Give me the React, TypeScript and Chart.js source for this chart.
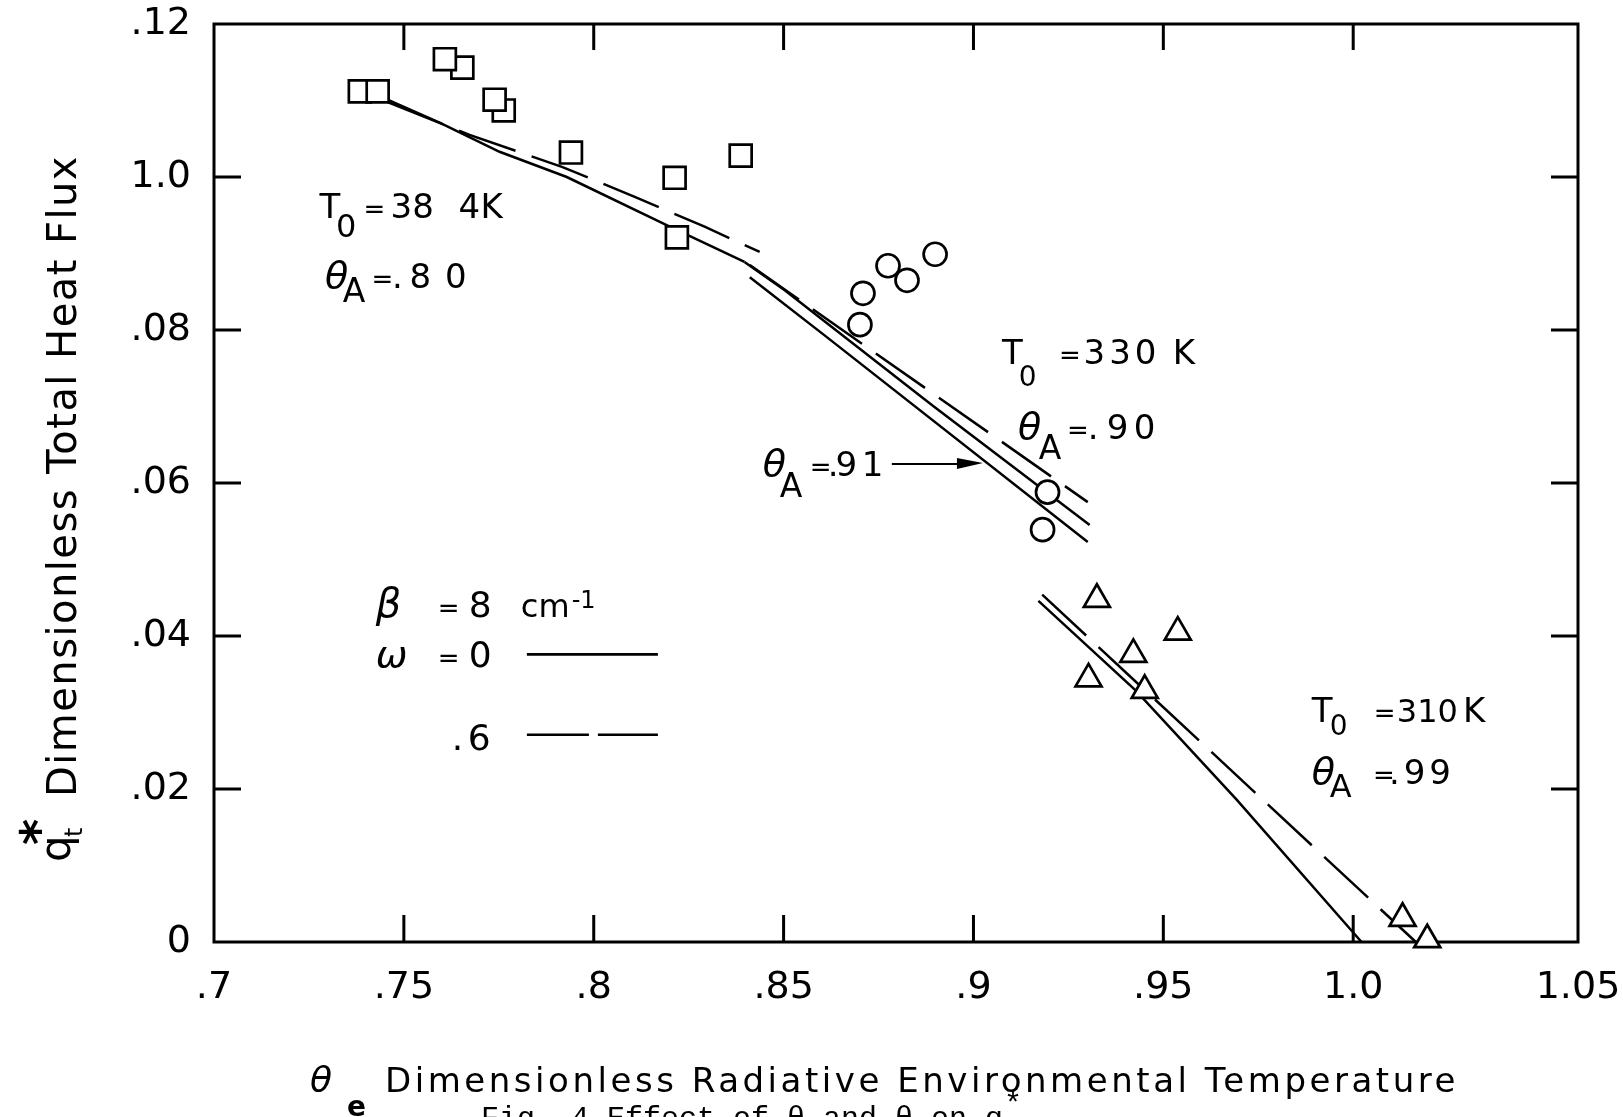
import { useEffect, useRef } from 'react';
import { Chart, registerables } from 'chart.js';

Chart.register(...registerables);

const FONT = "'DejaVu Sans', 'Noto Sans', sans-serif";
const MONO = "'Liberation Mono', 'DejaVu Sans Mono', monospace";
const INK = '#000000';

// ---- axes ----
const X_MIN = 0.7;
const X_MAX = 1.0592; // right edge of the frame (lettered "1.05" on the original)
const Y_MIN = 0;
const Y_MAX = 0.12;
const xTickValues = [0.7, 0.75, 0.8, 0.85, 0.9, 0.95, 1.0, X_MAX];
const xTickLabels = ['.7', '.75', '.8', '.85', '.9', '.95', '1.0', '1.05'];
const xInnerTicks = [0.75, 0.8, 0.85, 0.9, 0.95, 1.0];
const yTickValues = [0, 0.02, 0.04, 0.06, 0.08, 0.1, 0.12];
const yTickLabels = ['0', '.02', '.04', '.06', '.08', '1.0', '.12'];
const yInnerTicks = [0.02, 0.04, 0.06, 0.08, 0.1];

// ---- measured points ----
// T0 = 384 K (squares)
const sqX = [0.7384, 0.7431, 0.7654, 0.7608, 0.7763, 0.7739, 0.794, 0.8213, 0.8219, 0.8387];
const sqY = [0.1112, 0.1112, 0.1143, 0.1154, 0.1087, 0.1101, 0.1032, 0.0999, 0.0921, 0.1028];
// T0 = 330 K (circles)
const ciX = [0.8701, 0.8709, 0.8775, 0.8825, 0.8899, 0.9195, 0.9182];
const ciY = [0.0807, 0.0848, 0.0884, 0.0865, 0.0899, 0.0588, 0.0539];
// T0 = 310 K (triangles)
const trX = [0.9325, 0.9303, 0.9421, 0.9451, 0.9538, 1.013, 1.0195];
const trY = [0.0448, 0.0344, 0.0376, 0.0329, 0.0405, 0.0031, 0.0003];

// ---- computed curves ----
const s384X = [0.7457, 0.7594, 0.7752, 0.7929, 0.8192, 0.8397];
const s384Y = [0.1101, 0.1071, 0.1033, 0.1, 0.0937, 0.0889];
const d384X = [0.7457, 0.7673, 0.7918, 0.8108, 0.8292, 0.8437];
const d384Y = [0.1098, 0.1055, 0.1013, 0.0974, 0.0935, 0.0902];
const s330X = [0.8397, 0.8503, 0.8893, 0.9306];
const s330Y = [0.0889, 0.0852, 0.0701, 0.0545];
const d330X = [0.8411, 0.9301];
const d330Y = [0.0885, 0.0575];
const s391X = [0.8411, 0.8613, 0.9301];
const s391Y = [0.0869, 0.0791, 0.0523];
const s310X = [0.9171, 0.9427, 0.9693, 1.0022];
const s310Y = [0.0446, 0.0329, 0.0186, 0.0];
const d310X = [0.9181, 1.0165];
const d310Y = [0.0454, 0.0];

// ---- in-plot lettering (value coordinates, baseline-left) ----
type TextItem = { text: string; x: number; y: number; size: number; italic?: boolean; bold?: boolean; ls?: number };
const notes: TextItem[] = [
  // T0 = 384 K, thetaA = .80
  { text: 'T', x: 0.7278, y: 0.0946, size: 34 },
  { text: '0', x: 0.7321, y: 0.0922, size: 32 },
  { text: '=', x: 0.7394, y: 0.0946, size: 26 },
  { text: '38', x: 0.7465, y: 0.0946, size: 34 },
  { text: '4', x: 0.7644, y: 0.0946, size: 34 },
  { text: 'K', x: 0.7702, y: 0.0946, size: 34 },
  { text: 'θ', x: 0.7292, y: 0.0855, size: 38, italic: true },
  { text: 'A', x: 0.7339, y: 0.0837, size: 33 },
  { text: '=', x: 0.7415, y: 0.0855, size: 26 },
  { text: '.', x: 0.7469, y: 0.0855, size: 34 },
  { text: '8', x: 0.7515, y: 0.0855, size: 34 },
  { text: '0', x: 0.7608, y: 0.0855, size: 34 },
  // T0 = 330 K, thetaA = .90
  { text: 'T', x: 0.9075, y: 0.0756, size: 34 },
  { text: '0', x: 0.9119, y: 0.0727, size: 28 },
  { text: '=', x: 0.9225, y: 0.0756, size: 26 },
  { text: '330', x: 0.929, y: 0.0756, size: 34, ls: 4 },
  { text: 'K', x: 0.9525, y: 0.0756, size: 34 },
  { text: 'θ', x: 0.9117, y: 0.0658, size: 38, italic: true },
  { text: 'A', x: 0.9172, y: 0.0632, size: 33 },
  { text: '=', x: 0.9246, y: 0.0658, size: 26 },
  { text: '.', x: 0.9301, y: 0.0658, size: 34 },
  { text: '9', x: 0.9351, y: 0.0658, size: 34 },
  { text: '0', x: 0.9422, y: 0.0658, size: 34 },
  // thetaA = .91 (arrow)
  { text: 'θ', x: 0.8445, y: 0.0609, size: 38, italic: true },
  { text: 'A', x: 0.849, y: 0.0582, size: 33 },
  { text: '=', x: 0.8569, y: 0.0609, size: 26 },
  { text: '.', x: 0.8616, y: 0.0609, size: 34 },
  { text: '9', x: 0.8637, y: 0.0609, size: 34 },
  { text: '1', x: 0.8706, y: 0.0609, size: 34 },
  // T0 = 310 K, thetaA = .99
  { text: 'T', x: 0.9891, y: 0.0288, size: 34 },
  { text: '0', x: 0.9938, y: 0.0271, size: 28 },
  { text: '=', x: 1.0054, y: 0.0288, size: 26 },
  { text: '310', x: 1.0115, y: 0.0288, size: 32 },
  { text: 'K', x: 1.0289, y: 0.0288, size: 34 },
  { text: 'θ', x: 0.9891, y: 0.0207, size: 38, italic: true },
  { text: 'A', x: 0.9938, y: 0.019, size: 32 },
  { text: '=', x: 1.0052, y: 0.0207, size: 26 },
  { text: '.99', x: 1.0094, y: 0.0207, size: 34, ls: 4 },
  // key
  { text: 'β', x: 0.7426, y: 0.0425, size: 40, italic: true },
  { text: '=', x: 0.7589, y: 0.0425, size: 26 },
  { text: '8', x: 0.7671, y: 0.0425, size: 36 },
  { text: 'cm', x: 0.7808, y: 0.0425, size: 32 },
  { text: '-1', x: 0.7942, y: 0.0437, size: 24 },
  { text: 'ω', x: 0.7426, y: 0.0359, size: 38, italic: true },
  { text: '=', x: 0.7589, y: 0.0359, size: 26 },
  { text: '0', x: 0.7671, y: 0.0359, size: 36 },
  { text: '.', x: 0.7626, y: 0.0251, size: 36 },
  { text: '6', x: 0.7668, y: 0.0251, size: 36 },
];
const keyLineX = [0.7824, 0.8169];
const keySolidY = 0.0376;
const keyDashY = 0.0271;
const arrowX = [0.8785, 0.9025];
const arrowY = 0.0625;

const xTitle = 'Dimensionless Radiative Environmental Temperature';
const yTitle = 'Dimensionless Total Heat Flux';
const caption = 'Fig. 4 Effect of θ and θ on q';

const LINE_W = 2.5;
const DASH = [60, 17];

const pts = (xs: number[], ys: number[]) => xs.map((x, i) => ({ x, y: ys[i] }));

const fontStr = (size: number, italic?: boolean, bold?: boolean, fam: string = FONT) =>
  `${italic ? 'italic ' : ''}${bold ? 'bold ' : ''}${size}px ${fam}`;

const decor = {
  id: 'decor',
  beforeDraw(chart: any) {
    const ctx = chart.ctx;
    ctx.save();
    ctx.fillStyle = '#ffffff';
    ctx.fillRect(0, 0, chart.width, chart.height);
    ctx.restore();
  },
  beforeDatasetsDraw(chart: any) {
    const { ctx, chartArea: a, scales } = chart;
    const xs = scales.x;
    const ys = scales.y;
    ctx.save();
    ctx.strokeStyle = INK;
    ctx.lineWidth = 3;
    ctx.strokeRect(a.left, a.top, a.right - a.left, a.bottom - a.top);
    ctx.beginPath();
    for (const v of xInnerTicks) {
      const px = xs.getPixelForValue(v);
      ctx.moveTo(px, a.bottom);
      ctx.lineTo(px, a.bottom - 27);
      ctx.moveTo(px, a.top);
      ctx.lineTo(px, a.top + 26);
    }
    for (const v of yInnerTicks) {
      const py = ys.getPixelForValue(v);
      ctx.moveTo(a.left, py);
      ctx.lineTo(a.left + 27, py);
      ctx.moveTo(a.right, py);
      ctx.lineTo(a.right - 27, py);
    }
    ctx.stroke();
    ctx.restore();
  },
  afterDatasetsDraw(chart: any) {
    const { ctx, scales } = chart;
    const xs = scales.x;
    const ys = scales.y;
    ctx.save();
    ctx.fillStyle = INK;
    ctx.strokeStyle = INK;
    ctx.textAlign = 'left';
    ctx.textBaseline = 'alphabetic';
    for (const t of notes) {
      ctx.font = fontStr(t.size, t.italic, t.bold);
      (ctx as any).letterSpacing = `${t.ls ?? 0}px`;
      ctx.fillText(t.text, xs.getPixelForValue(t.x), ys.getPixelForValue(t.y));
    }
    (ctx as any).letterSpacing = '0px';
    // key samples
    const kx0 = xs.getPixelForValue(keyLineX[0]);
    const kx1 = xs.getPixelForValue(keyLineX[1]);
    ctx.lineWidth = 2.6;
    ctx.beginPath();
    ctx.moveTo(kx0, ys.getPixelForValue(keySolidY));
    ctx.lineTo(kx1, ys.getPixelForValue(keySolidY));
    ctx.stroke();
    ctx.setLineDash([62, 9]);
    ctx.beginPath();
    ctx.moveTo(kx0, ys.getPixelForValue(keyDashY));
    ctx.lineTo(kx1, ys.getPixelForValue(keyDashY));
    ctx.stroke();
    ctx.setLineDash([]);
    // arrow
    const ax0 = xs.getPixelForValue(arrowX[0]);
    const ax1 = xs.getPixelForValue(arrowX[1]);
    const ay = ys.getPixelForValue(arrowY);
    ctx.lineWidth = 2;
    ctx.beginPath();
    ctx.moveTo(ax0, ay);
    ctx.lineTo(ax1 - 20, ay);
    ctx.stroke();
    ctx.beginPath();
    ctx.moveTo(ax1, ay - 1);
    ctx.lineTo(ax1 - 26, ay - 6);
    ctx.lineTo(ax1 - 26, ay + 5);
    ctx.closePath();
    ctx.fill();
    ctx.restore();
  },
  afterDraw(chart: any) {
    const { ctx } = chart;
    ctx.save();
    ctx.fillStyle = INK;
    ctx.textAlign = 'left';
    ctx.textBaseline = 'alphabetic';
    // x title
    ctx.font = fontStr(36, true);
    ctx.fillText('θ', 310, 1092);
    ctx.font = fontStr(28, false, true);
    ctx.fillText('e', 347, 1116);
    ctx.font = fontStr(34);
    const wx = ctx.measureText(xTitle).width;
    (ctx as any).letterSpacing = `${(1074 - wx) / xTitle.length}px`;
    ctx.fillText(xTitle, 385, 1092);
    (ctx as any).letterSpacing = '0px';
    // y title
    ctx.save();
    ctx.translate(76, 862);
    ctx.rotate(-Math.PI / 2);
    ctx.font = fontStr(42);
    ctx.fillText('q', 0, -6);
    ctx.font = fontStr(24);
    ctx.fillText('t', 25, 6);
    ctx.font = fontStr(50, false, true);
    ctx.fillText('*', 17, -20);
    ctx.font = fontStr(40);
    const wy = ctx.measureText(yTitle).width;
    (ctx as any).letterSpacing = `${(642 - wy) / yTitle.length}px`;
    ctx.fillText(yTitle, 65, 0);
    (ctx as any).letterSpacing = '0px';
    ctx.restore();
    // caption (cut by the page edge)
    ctx.font = fontStr(30, false, false, MONO);
    ctx.fillText(caption, 481, 1127);
    ctx.fillText('*', 1004, 1113);
    ctx.restore();
  },
};

export default function App() {
  const ref = useRef<HTMLCanvasElement | null>(null);
  useEffect(() => {
    if (!ref.current) return;
    const marker = (data: any, style: string, r: number) => ({
      data,
      showLine: false,
      pointStyle: style,
      pointRadius: r,
      pointHoverRadius: r,
      borderColor: INK,
      backgroundColor: '#ffffff',
      pointBorderColor: INK,
      pointBackgroundColor: '#ffffff',
      borderWidth: 2.7,
      pointBorderWidth: 2.7,
      clip: false,
    });
    const curve = (data: any, dashed: boolean) => ({
      data,
      showLine: true,
      pointRadius: 0,
      pointHoverRadius: 0,
      borderColor: INK,
      borderWidth: LINE_W,
      borderDash: dashed ? DASH : [],
      fill: false,
      tension: 0,
      clip: false,
    });
    const chart = new Chart(ref.current, {
      type: 'scatter',
      data: {
        datasets: [
          { label: 'T0 = 310 K', ...marker(pts(trX, trY), 'triangle', 15) },
          { label: 'T0 = 330 K', ...marker(pts(ciX, ciY), 'circle', 11.5) },
          { label: 'T0 = 384 K', ...marker(pts(sqX, sqY), 'rect', 15.5) },
          { label: '384 K, ω = 0', ...curve(pts(s384X, s384Y), false) },
          { label: '384 K, ω = .6', ...curve(pts(d384X, d384Y), true) },
          { label: '330 K, ω = 0', ...curve(pts(s330X, s330Y), false) },
          { label: '330 K, ω = .6', ...curve(pts(d330X, d330Y), true) },
          { label: 'θA = .91, ω = 0', ...curve(pts(s391X, s391Y), false) },
          { label: '310 K, ω = 0', ...curve(pts(s310X, s310Y), false) },
          { label: '310 K, ω = .6', ...curve(pts(d310X, d310Y), true) },
        ] as any,
      },
      options: {
        responsive: false,
        animation: false,
        events: [],
        layout: { padding: { left: 0, top: 24, right: 45, bottom: 0 } },
        plugins: { legend: { display: false }, tooltip: { enabled: false }, title: { display: false } },
        scales: {
          x: {
            type: 'linear',
            min: X_MIN,
            max: X_MAX,
            afterBuildTicks: (s: any) => {
              s.ticks = xTickValues.map((v) => ({ value: v }));
            },
            afterFit: (s: any) => {
              s.height = 175;
            },
            grid: { display: false, drawTicks: false },
            border: { display: false },
            ticks: {
              padding: 0,
              autoSkip: false,
              maxRotation: 0,
              color: INK,
              font: { family: FONT, size: 38, lineHeight: 2.42 },
              callback: (_v: any, i: number) => xTickLabels[i],
            },
          },
          y: {
            type: 'linear',
            min: Y_MIN,
            max: Y_MAX,
            afterBuildTicks: (s: any) => {
              s.ticks = yTickValues.map((v) => ({ value: v }));
            },
            afterFit: (s: any) => {
              s.width = 214;
            },
            grid: { display: false, drawTicks: false },
            border: { display: false },
            ticks: {
              padding: 23,
              autoSkip: false,
              color: INK,
              font: { family: FONT, size: 38, lineHeight: 0.02 },
              callback: (_v: any, i: number) => yTickLabels[i],
            },
          },
        },
      } as any,
      plugins: [decor],
    });
    return () => chart.destroy();
  }, []);
  return (
    <div style={{ position: 'fixed', left: 0, top: 0, width: 1623, height: 1117, background: '#fff' }}>
      <canvas ref={ref} width={1623} height={1117} style={{ display: 'block' }} />
    </div>
  );
}
